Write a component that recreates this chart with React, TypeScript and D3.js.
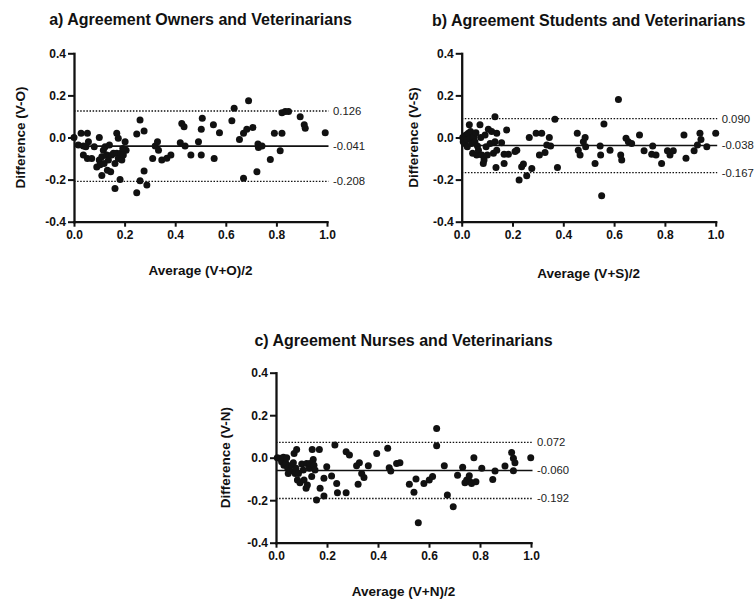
import React, { useEffect, useRef } from 'react';
import * as d3 from 'd3';

// [average, difference]
const ownersPoints: [number, number][] = [
  [0, 0], [0.017, -0.036], [0.028, 0.02], [0.037, -0.04], [0.053, 0.02], [0.047, -0.044], [0.057, -0.02],
  [0.037, -0.083], [0.053, -0.1], [0.07, -0.1], [0.08, -0.044], [0.09, -0.14], [0.1, 0], [0.1, -0.107],
  [0.103, -0.13], [0.11, -0.18], [0.11, -0.091], [0.116, -0.06], [0.119, -0.123], [0.123, -0.044],
  [0.129, -0.083], [0.132, -0.155], [0.136, -0.107], [0.14, -0.036], [0.145, -0.163], [0.149, -0.083],
  [0.156, -0.075], [0.162, -0.242], [0.162, -0.123], [0.169, 0.02], [0.169, -0.075], [0.175, -0.1],
  [0.175, -0.004], [0.182, -0.2], [0.185, -0.075], [0.189, -0.107], [0.195, -0.083], [0.202, -0.02],
  [0.206, -0.06], [0.193, -0.052], [0.248, 0.017], [0.261, 0.083], [0.277, 0.031], [0.248, -0.262],
  [0.261, -0.206], [0.277, -0.159], [0.288, -0.226], [0.311, -0.1], [0.321, -0.04], [0.33, -0.02],
  [0.334, -0.06], [0.347, -0.107], [0.367, -0.099], [0.383, -0.083], [0.42, -0.025], [0.426, 0.067],
  [0.435, 0.051], [0.439, -0.04], [0.462, -0.083], [0.492, -0.02], [0.503, 0.039], [0.507, 0.091],
  [0.503, -0.083], [0.551, 0.06], [0.554, -0.1], [0.575, 0.023], [0.624, 0.08], [0.633, 0.139],
  [0.654, -0.009], [0.67, 0.02], [0.683, 0.039], [0.69, 0.175], [0.707, 0.048], [0.67, -0.194],
  [0.723, -0.163], [0.727, -0.031], [0.729, -0.047], [0.743, -0.04], [0.776, -0.104], [0.792, 0.02],
  [0.815, -0.063], [0.822, 0.02], [0.822, 0.118], [0.835, 0.123], [0.848, 0.123], [0.894, 0.099],
  [0.91, 0.06], [0.914, 0.044], [0.993, 0.023],
];

const studentsPoints: [number, number][] = [
  [0.004, 0], [0.006, -0.02], [0.009, -0.012], [0.013, -0.028], [0.017, 0.012], [0.02, -0.01],
  [0.022, -0.044], [0.026, 0.02], [0.03, 0.06], [0.033, -0.004], [0.035, 0.028], [0.039, -0.028],
  [0.043, -0.075], [0.045, 0], [0.049, 0.004], [0.052, -0.02], [0.056, 0.023], [0.059, -0.083],
  [0.062, -0.04], [0.066, -0.06], [0.072, 0.06], [0.075, 0], [0.079, -0.083], [0.085, -0.123],
  [0.088, -0.107], [0.092, 0.012], [0.096, -0.044], [0.101, -0.083], [0.105, 0.039], [0.112, -0.028],
  [0.118, 0.028], [0.125, -0.075], [0.131, 0.099], [0.131, -0.02], [0.135, -0.142], [0.138, 0.02],
  [0.138, -0.06], [0.157, -0.025], [0.167, -0.123], [0.167, -0.079], [0.177, 0.036], [0.184, -0.079],
  [0.21, -0.067], [0.217, -0.06], [0.226, -0.202], [0.236, -0.139], [0.243, -0.126], [0.256, -0.182],
  [0.266, 0], [0.276, -0.147], [0.293, 0.02], [0.306, -0.083], [0.315, 0.02], [0.328, -0.071],
  [0.335, -0.036], [0.345, 0], [0.35, -0.04], [0.367, 0.087], [0.377, -0.142], [0.455, 0.02],
  [0.459, -0.06], [0.466, -0.083], [0.479, -0.02], [0.486, 0], [0.488, -0.044], [0.525, -0.123],
  [0.545, -0.04], [0.547, -0.083], [0.551, -0.277], [0.56, 0.064], [0.584, -0.06], [0.617, 0.181],
  [0.626, -0.083], [0.63, -0.107], [0.647, -0.004], [0.656, -0.02], [0.669, -0.028], [0.7, 0.012],
  [0.718, -0.063], [0.752, -0.04], [0.748, -0.079], [0.765, -0.083], [0.787, -0.123], [0.81, -0.063],
  [0.82, -0.083], [0.833, -0.063], [0.875, 0.012], [0.883, -0.099], [0.915, -0.063], [0.928, -0.036],
  [0.938, 0.02], [0.942, -0.009], [0.965, -0.044], [1.0, 0.02],
];

const nursesPoints: [number, number][] = [
  [0.005, 0], [0.016, -0.003], [0.022, -0.019], [0.029, 0.002], [0.031, -0.035], [0.039, -0.027],
  [0.042, 0], [0.046, -0.05], [0.048, -0.074], [0.055, -0.061], [0.061, -0.035], [0.068, -0.024],
  [0.071, 0.02], [0.075, -0.074], [0.078, -0.05], [0.081, 0.039], [0.084, -0.105], [0.088, -0.074],
  [0.094, -0.118], [0.101, -0.03], [0.107, -0.058], [0.11, -0.105], [0.118, -0.144], [0.12, -0.027],
  [0.123, -0.129], [0.131, -0.05], [0.133, -0.027], [0.14, -0.089], [0.142, 0.039], [0.146, -0.008],
  [0.149, -0.035], [0.153, -0.058], [0.159, -0.199], [0.17, 0.039], [0.173, -0.144], [0.188, -0.18],
  [0.188, -0.097], [0.199, -0.042], [0.218, -0.086], [0.231, 0.06], [0.238, -0.121], [0.241, -0.165],
  [0.275, -0.165], [0.275, 0.028], [0.288, 0.013], [0.316, -0.038], [0.322, -0.125], [0.327, -0.024],
  [0.336, -0.074], [0.345, -0.093], [0.362, -0.038], [0.395, 0.02], [0.438, 0.044], [0.444, -0.047],
  [0.45, -0.063], [0.473, -0.027], [0.486, -0.024], [0.523, -0.125], [0.541, -0.163], [0.549, -0.1],
  [0.558, -0.306], [0.58, -0.121], [0.601, -0.105], [0.614, -0.089], [0.63, 0.138], [0.63, 0.056],
  [0.66, -0.038], [0.672, -0.176], [0.695, -0.231], [0.712, -0.082], [0.732, -0.045], [0.741, -0.118],
  [0.748, -0.105], [0.758, -0.085], [0.761, -0.113], [0.767, -0.121], [0.776, 0], [0.784, -0.113],
  [0.807, -0.05], [0.85, -0.102], [0.859, -0.063], [0.898, -0.039], [0.924, 0.024], [0.931, -0.003],
  [0.937, -0.024], [0.931, -0.061], [0.999, 0],
];

// upper limit, mean bias, lower limit
const ownersLimits = [0.126, -0.041, -0.208];
const studentsLimits = [0.09, -0.038, -0.167];
const nursesLimits = [0.072, -0.06, -0.192];

const titles = [
  'a) Agreement Owners and Veterinarians',
  'b) Agreement Students and Veterinarians',
  'c) Agreement Nurses and Veterinarians',
];
const yLabels = ['Difference (V-O)', 'Difference (V-S)', 'Difference (V-N)'];
const xLabels = ['Average (V+O)/2', 'Average (V+S)/2', 'Average (V+N)/2'];
const xTicks = [0, 0.2, 0.4, 0.6, 0.8, 1.0];
const yTicks = [-0.4, -0.2, 0, 0.2, 0.4];

const FONT = '"Liberation Sans", Arial, Helvetica, sans-serif';
const INK = '#111';

// plot boxes in pixels
const boxes = [
  { left: 74, top: 53.3, width: 253, height: 168.4, titleY: 25, yLabelX: 20, xLabelY: 275 },
  { left: 461.7, top: 53.3, width: 254, height: 168.4, titleY: 26, yLabelX: 413, xLabelY: 278 },
  { left: 276, top: 372.7, width: 255, height: 170, titleY: 346, yLabelX: 225, xLabelY: 596 },
];

const App = () => {
  const ref = useRef<SVGSVGElement>(null);

  useEffect(() => {
    if (!ref.current) return;
    const svg = d3.select(ref.current);
    svg.selectAll('*').remove();

    const panels = [
      { points: ownersPoints, limits: ownersLimits },
      { points: studentsPoints, limits: studentsLimits },
      { points: nursesPoints, limits: nursesLimits },
    ];

    panels.forEach((p, i) => {
      const b = boxes[i];
      const x = d3.scaleLinear().domain([0, 1]).range([b.left, b.left + b.width]);
      const y = d3.scaleLinear().domain([-0.4, 0.4]).range([b.top + b.height, b.top]);
      const g = svg.append('g').attr('font-family', FONT);

      // title
      g.append('text')
        .attr('x', b.left + b.width / 2)
        .attr('y', b.titleY)
        .attr('text-anchor', 'middle')
        .attr('font-size', 16)
        .attr('font-weight', 'bold')
        .attr('fill', INK)
        .text(titles[i]);

      // limits of agreement + bias
      p.limits.forEach((v, j) => {
        g.append('line')
          .attr('x1', x(0))
          .attr('x2', x(1) + 1.5)
          .attr('y1', y(v))
          .attr('y2', y(v))
          .attr('stroke', INK)
          .attr('stroke-width', j === 1 ? 1.6 : 1.3)
          .attr('stroke-dasharray', j === 1 ? null : '1.5,1.6');
        g.append('text')
          .attr('x', x(1) + 6)
          .attr('y', y(v))
          .attr('dy', '0.35em')
          .attr('font-size', 11.3)
          .attr('fill', '#222')
          .text(v.toFixed(3));
      });

      // axes
      const yAxis = g.append('g')
        .attr('transform', `translate(${b.left},0)`)
        .call(d3.axisLeft(y).tickValues(yTicks).tickSize(6).tickSizeOuter(0).tickPadding(2)
          .tickFormat((d) => (d as number).toFixed(1)));
      const xAxis = g.append('g')
        .attr('transform', `translate(0,${b.top + b.height})`)
        .call(d3.axisBottom(x).tickValues(xTicks).tickSize(5).tickSizeOuter(0).tickPadding(4)
          .tickFormat((d) => (d as number).toFixed(1)));
      [yAxis, xAxis].forEach((ax) => {
        ax.attr('font-family', FONT).attr('font-size', 12).attr('font-weight', 'bold');
        ax.select('.domain').attr('stroke', INK).attr('stroke-width', 2.3).attr('stroke-linecap', 'square');
        ax.selectAll('.tick line').attr('stroke', INK).attr('stroke-width', 2);
        ax.selectAll('.tick text').attr('fill', INK);
      });

      // points
      g.append('g')
        .selectAll('circle')
        .data(p.points)
        .enter()
        .append('circle')
        .attr('cx', (d) => x(d[0]))
        .attr('cy', (d) => y(d[1]))
        .attr('r', 3.5)
        .attr('fill', INK);

      // axis titles
      g.append('text')
        .attr('transform', `translate(${b.yLabelX},${b.top + b.height / 2}) rotate(-90)`)
        .attr('text-anchor', 'middle')
        .attr('dy', '0.35em')
        .attr('font-size', 13.5)
        .attr('font-weight', 'bold')
        .attr('fill', INK)
        .text(yLabels[i]);
      g.append('text')
        .attr('x', b.left + b.width / 2)
        .attr('y', b.xLabelY)
        .attr('text-anchor', 'middle')
        .attr('font-size', 13.5)
        .attr('font-weight', 'bold')
        .attr('fill', INK)
        .text(xLabels[i]);
    });
  }, []);

  return (
    <svg
      ref={ref}
      width={755}
      height={599}
      style={{ position: 'absolute', left: 0, top: 0, background: '#fff' }}
    />
  );
};

export default App;
